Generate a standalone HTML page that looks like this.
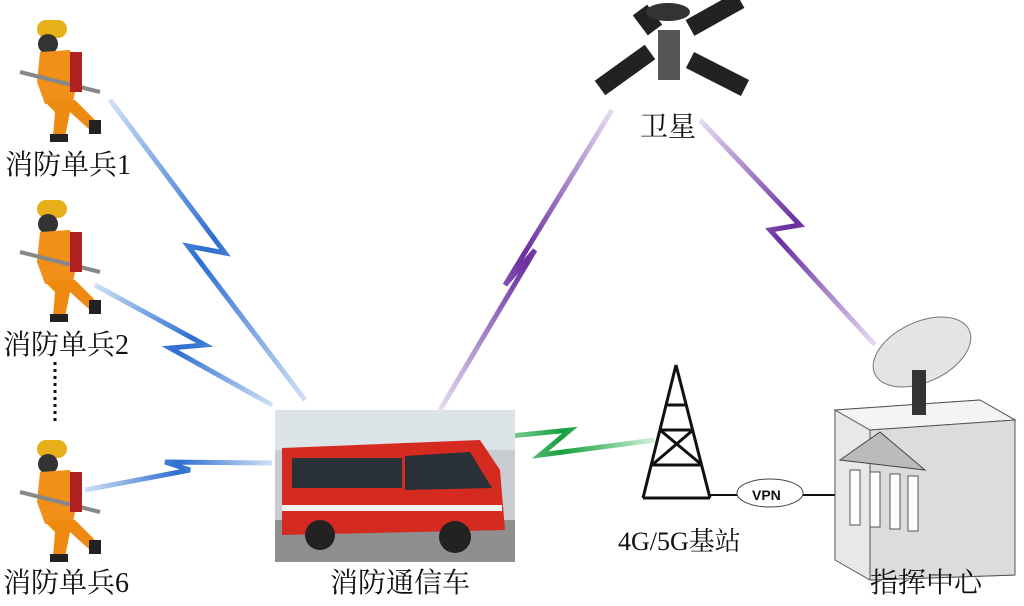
<!DOCTYPE html>
<html><head><meta charset="utf-8"><style>
body{margin:0;background:#fff;width:1024px;height:601px;overflow:hidden}
text{font-family:"Liberation Serif","Noto Serif CJK SC",serif;font-size:28px;fill:#111}
</style></head><body>
<svg width="1024" height="601" viewBox="0 0 1024 601" xmlns="http://www.w3.org/2000/svg">
<defs>
<linearGradient id="b1" x1="0" y1="0" x2="1" y2="1"><stop offset="0" stop-color="#cfe0f6"/><stop offset=".5" stop-color="#2e6fd0"/><stop offset="1" stop-color="#cfe0f6"/></linearGradient>
<linearGradient id="b2" x1="0" y1="0" x2="1" y2="0"><stop offset="0" stop-color="#cfe0f6"/><stop offset=".5" stop-color="#2e6fd0"/><stop offset="1" stop-color="#cfe0f6"/></linearGradient>
<linearGradient id="p1" x1="0" y1="1" x2="1" y2="0"><stop offset="0" stop-color="#e6dcf0"/><stop offset=".5" stop-color="#6a2fa0"/><stop offset="1" stop-color="#e6dcf0"/></linearGradient>
<linearGradient id="p2" x1="0" y1="0" x2="1" y2="1"><stop offset="0" stop-color="#e6dcf0"/><stop offset=".5" stop-color="#6a2fa0"/><stop offset="1" stop-color="#e6dcf0"/></linearGradient>
<linearGradient id="g1" x1="0" y1="0" x2="1" y2="0"><stop offset="0" stop-color="#d5f0dc"/><stop offset=".5" stop-color="#14a03c"/><stop offset="1" stop-color="#d5f0dc"/></linearGradient>
<g id="ff">
<rect x="22" y="8" width="30" height="18" rx="9" fill="#e8b018"/>
<circle cx="33" cy="32" r="10" fill="#333"/>
<path d="M25 40 L55 38 L62 70 L58 90 L30 92 L22 70Z" fill="#f09018"/>
<path d="M30 90 L60 88 L82 110 L75 118 L55 100 L50 125 L38 125 L40 100Z" fill="#ee8a10"/>
<rect x="35" y="122" width="18" height="8" fill="#222"/><rect x="74" y="108" width="12" height="14" fill="#222"/>
<line x1="5" y1="60" x2="85" y2="80" stroke="#888" stroke-width="4"/>
<rect x="55" y="40" width="12" height="40" fill="#b02020"/>
</g>
</defs>
<g fill="none" stroke-linejoin="miter" stroke-width="5">
<path d="M110,100 L225,253 L188,246 L305,400" stroke="url(#b1)"/>
<path d="M95,285 L205,345 L170,348 L272,405" stroke="url(#b1)"/>
<path d="M85,490 L190,470 L165,462 L272,463" stroke="url(#b2)"/>
<path d="M440,410 L535,250 L505,285 L612,110" stroke="url(#p1)"/>
<path d="M700,120 L800,225 L770,230 L875,345" stroke="url(#p2)"/>
<path d="M470,440 L570,430 L540,455 L655,440" stroke="url(#g1)"/>
</g>
<use href="#ff" x="15" y="12"/>
<use href="#ff" x="15" y="192"/>
<use href="#ff" x="15" y="432"/>
<line x1="55" y1="362" x2="55" y2="425" stroke="#111" stroke-width="3" stroke-dasharray="3,4"/>
<text x="5" y="174">消防单兵1</text>
<text x="3" y="354">消防单兵2</text>
<text x="3" y="592">消防单兵6</text>
<rect x="275" y="410" width="240" height="152" fill="#c9ccd0"/>
<rect x="275" y="410" width="240" height="40" fill="#dde4e8"/>
<rect x="275" y="520" width="240" height="42" fill="#8f8f8f"/>
<path d="M282 448 L480 440 L500 470 L505 530 L282 535Z" fill="#d42a20"/>
<rect x="292" y="458" width="110" height="30" fill="#2a3038"/>
<path d="M405 456 L470 452 L492 488 L405 490Z" fill="#2a3038"/>
<rect x="282" y="505" width="220" height="6" fill="#f0f0f0"/>
<circle cx="320" cy="535" r="15" fill="#222"/><circle cx="455" cy="537" r="16" fill="#222"/>
<text x="330" y="592">消防通信车</text>
<g stroke="#222" stroke-width="18">
<line x1="600" y1="88" x2="650" y2="52"/><line x1="690" y1="28" x2="740" y2="0"/>
<line x1="640" y1="10" x2="655" y2="30"/><line x1="690" y1="60" x2="745" y2="88"/>
</g>
<ellipse cx="668" cy="12" rx="22" ry="9" fill="#333"/>
<rect x="658" y="30" width="22" height="50" fill="#555"/>
<text x="640" y="136">卫星</text>
<g stroke="#111" stroke-width="3" fill="none">
<path d="M676 365 L643 498 M676 365 L710 498 M660 430 L693 430 M652 465 L702 465 M660 430 L702 465 M693 430 L652 465 M666 405 L686 405 M643 498 L710 498"/>
</g>
<text x="618" y="550" style="font-size:26px">4G/5G基站</text>
<line x1="710" y1="495" x2="740" y2="495" stroke="#111" stroke-width="2"/>
<line x1="800" y1="495" x2="835" y2="495" stroke="#111" stroke-width="2"/>
<ellipse cx="770" cy="493" rx="33" ry="14" fill="#fff" stroke="#444"/>
<text x="752" y="500" style="font-family:'Liberation Sans',sans-serif;font-size:14px;font-weight:bold">VPN</text>
<path d="M835 410 L980 400 L1015 420 L1015 575 L870 580 L835 560Z" fill="#e8e8e8" stroke="#555"/>
<path d="M835 410 L980 400 L1015 420 L870 430Z" fill="#f4f4f4" stroke="#555"/>
<path d="M870 430 L1015 420 L1015 575 L870 580Z" fill="#dcdcdc" stroke="#555"/>
<path d="M840 460 L880 432 L925 470Z" fill="#bbb" stroke="#444"/>
<g fill="#fff" stroke="#555"><rect x="850" y="470" width="10" height="55"/><rect x="870" y="472" width="10" height="55"/><rect x="890" y="474" width="10" height="55"/><rect x="908" y="476" width="10" height="55"/></g>
<ellipse cx="922" cy="352" rx="52" ry="30" fill="#e4e4e4" stroke="#777" transform="rotate(-25 922 352)"/>
<rect x="912" y="370" width="14" height="45" fill="#333"/>
<text x="870" y="592">指挥中心</text>
</svg>
</body></html>
